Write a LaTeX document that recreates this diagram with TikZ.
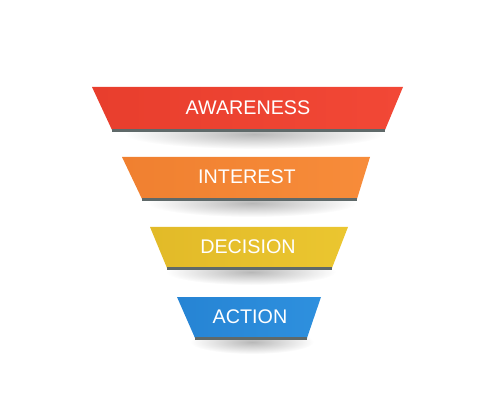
\documentclass[tikz,border=0pt]{standalone}
\usepackage{fontspec}
\setmainfont{Liberation Sans}

\definecolor{edgegray}{RGB}{95,105,105}

\tikzset{
  shadowblob/.style={inner color=black!28, outer color=white},
  bandtext/.style={text=white, inner sep=0.75pt, font=\fontsize{14.8}{17}\selectfont},
  bandedge/.style={draw=edgegray, line width=1.6},
}

\begin{document}
\begin{tikzpicture}[x=0.75pt,y=0.75pt,yscale=-1,xscale=1]
\path[use as bounding box] (0,0) rectangle (500,417); %set diagram to 500 x 417

%Shadows
\shade[shadowblob] (254,134) ellipse (130 and 15);
\shade[shadowblob] (252,203) ellipse (105 and 14);
\shade[shadowblob] (251,272) ellipse (85 and 13);
\shade[shadowblob] (252,342) ellipse (62 and 12);

%Shape: Trapezoid (awareness)
\shade[left color={rgb,255:red,232;green,62;blue,45}, middle color={rgb,255:red,250;green,86;blue,66}, right color={rgb,255:red,242;green,72;blue,54}]
  (92,87) -- (403,87) -- (385,130) -- (112,130) -- cycle ;
\draw[bandedge] (112,130.5) -- (385,130.5) ;
%Shape: Trapezoid (interest)
\shade[left color={rgb,255:red,240;green,128;blue,48}, middle color={rgb,255:red,252;green,150;blue,70}, right color={rgb,255:red,247;green,140;blue,58}]
  (122,157) -- (370,157) -- (357,199) -- (142,199) -- cycle ;
\draw[bandedge] (142,199.5) -- (357,199.5) ;
%Shape: Trapezoid (decision)
\shade[left color={rgb,255:red,226;green,186;blue,40}, middle color={rgb,255:red,244;green,210;blue,60}, right color={rgb,255:red,235;green,198;blue,48}]
  (150,227) -- (348,227) -- (332,268) -- (167,268) -- cycle ;
\draw[bandedge] (167,268.5) -- (332,268.5) ;
%Shape: Trapezoid (action)
\shade[left color={rgb,255:red,38;green,132;blue,212}, middle color={rgb,255:red,60;green,160;blue,236}, right color={rgb,255:red,46;green,144;blue,222}]
  (177,297) -- (321,297) -- (307,338) -- (195,338) -- cycle ;
\draw[bandedge] (195,338.5) -- (307,338.5) ;

% Text Node
\node[bandtext] (awareness) at (248,108) {AWARENESS};
% Text Node
\node[bandtext] (interest) at (247,177) {INTEREST};
% Text Node
\node[bandtext] (decision) at (248,247) {DECISION};
% Text Node
\node[bandtext] (action) at (250,317) {ACTION};

\end{tikzpicture}
\end{document}
